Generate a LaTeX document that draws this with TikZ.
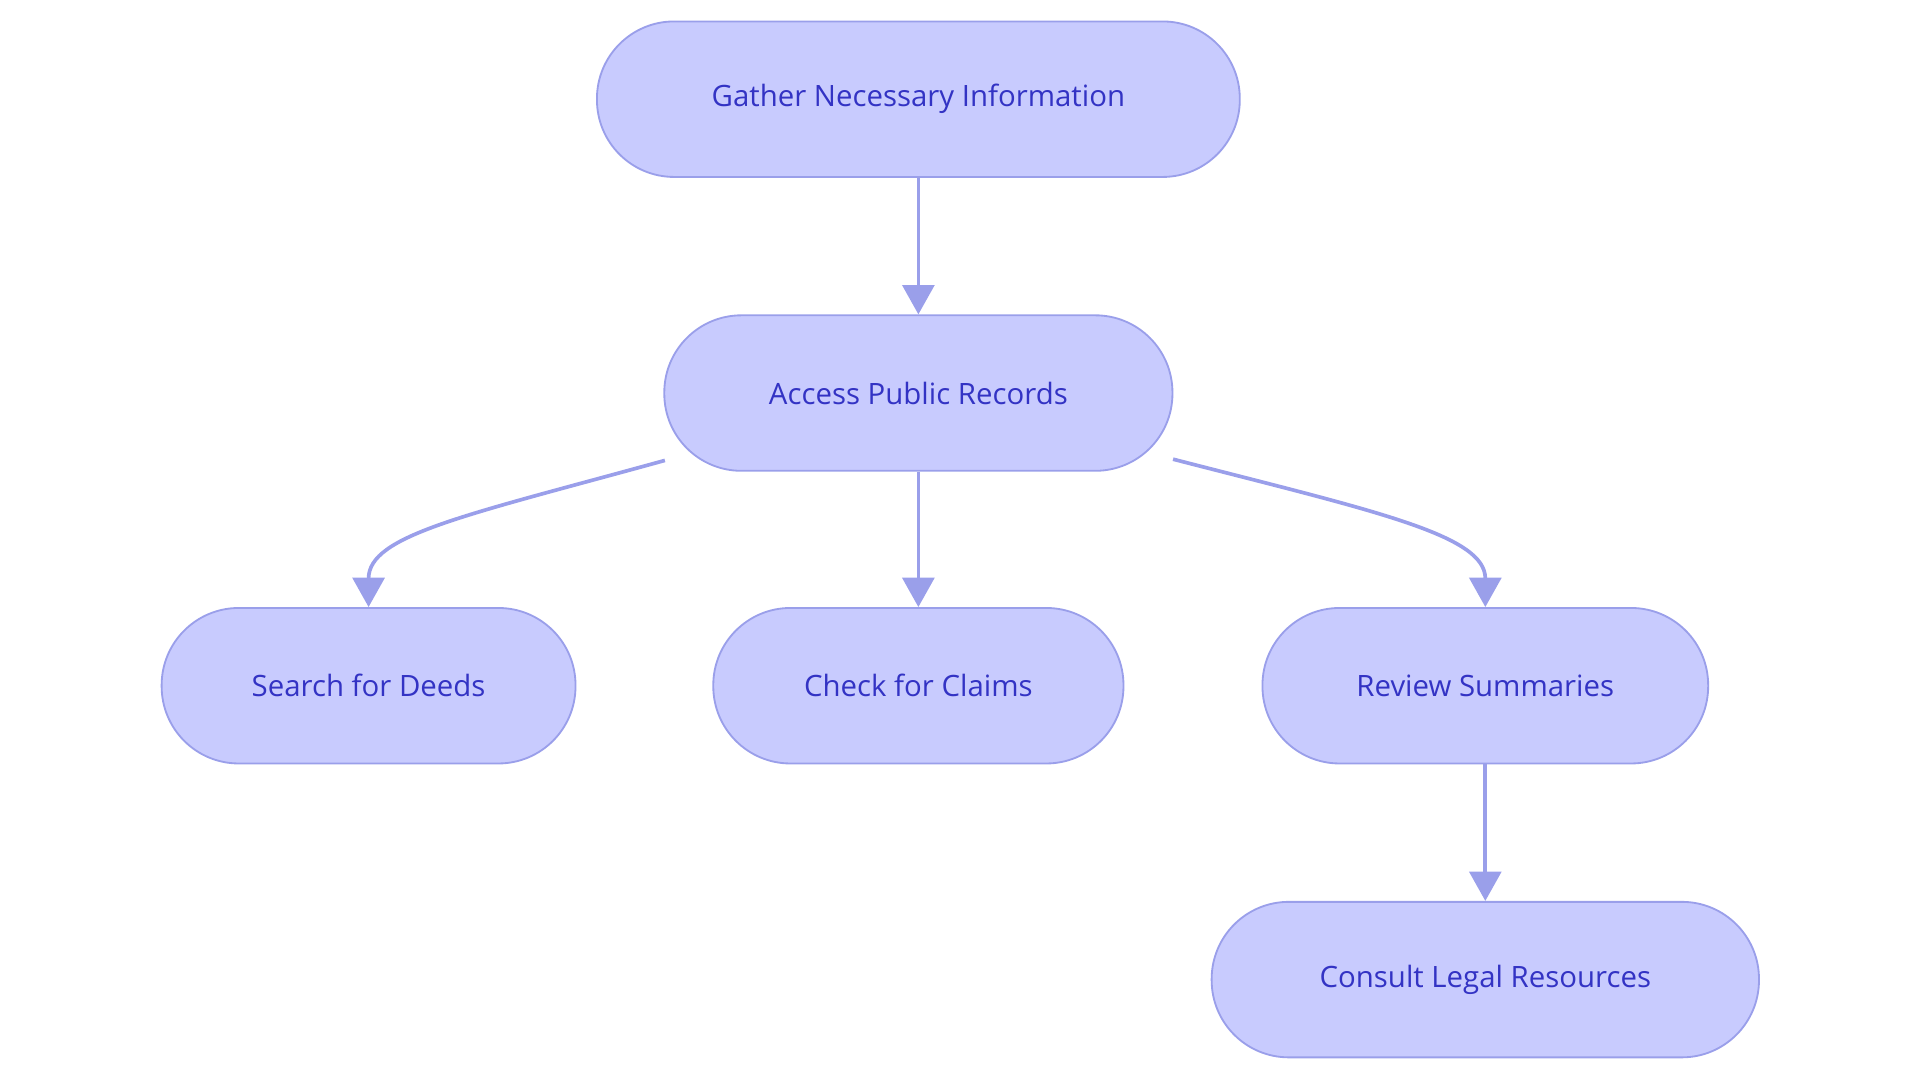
\documentclass[tikz,border=0pt]{standalone}
\usepackage{fontspec}
\setmainfont{Open Sans}
\usetikzlibrary{arrows.meta}
\definecolor{nfill}{HTML}{C8CBFE}
\definecolor{nline}{HTML}{9A9FEA}
\definecolor{ntext}{HTML}{3333C4}
\begin{document}
\begin{tikzpicture}[x=1pt,y=-1pt,
  box/.style={draw=nline,line width=1.5pt,fill=nfill,rounded corners=63pt,minimum height=127pt,text=ntext,font=\fontsize{24}{28}\selectfont,inner sep=0pt},
  arr/.style={draw=nline,line width=3pt,-{Triangle[width=26pt,length=24pt]}}]
\useasboundingbox (0,0) rectangle (1568,884);
\node[box,minimum width=525pt] (g) at (750,81) {Gather Necessary Information};
\node[box,minimum width=415pt] (a) at (750,321) {Access Public Records};
\node[box,minimum width=338pt] (s) at (301,560) {Search for Deeds};
\node[box,minimum width=335pt] (c) at (750,560) {Check for Claims};
\node[box,minimum width=364pt] (r) at (1213,560) {Review Summaries};
\node[box,minimum width=447pt] (l) at (1213,800) {Consult Legal Resources};
\coordinate (al) at (543,376);
\coordinate (ar) at (958,375);
\draw[arr] (g) -- (a);
\draw[arr] (a) -- (c);
\draw[arr] (r) -- (l);
\draw[arr] (al) .. controls (380,421) and (301,437) .. (s.north);
\draw[arr] (ar) .. controls (1125,418) and (1213,437) .. (r.north);
\end{tikzpicture}
\end{document}
